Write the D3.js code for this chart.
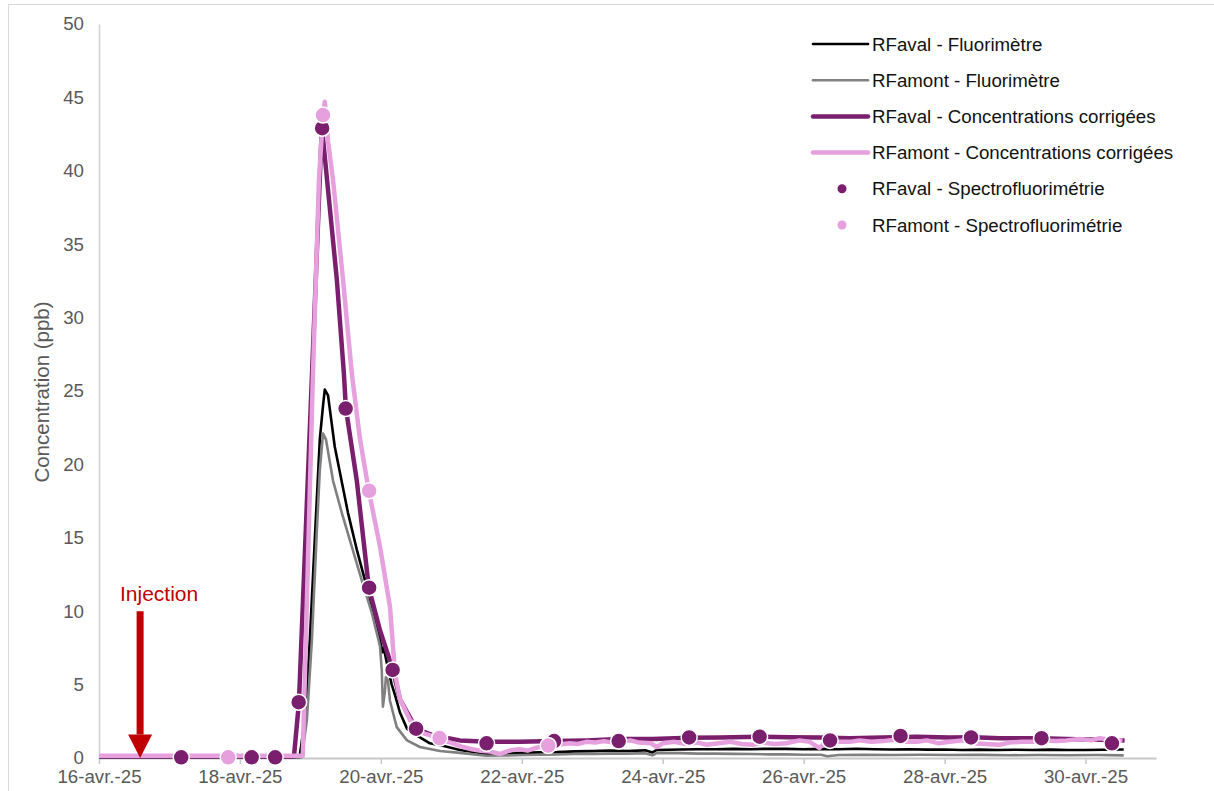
<!DOCTYPE html>
<html>
<head>
<meta charset="utf-8">
<script src="https://cdn.jsdelivr.net/npm/d3@7"></script>
<style>
  body { margin: 0; background: #fff; }
  svg { display: block; font-family: "Liberation Sans", Arial, sans-serif; }
</style>
</head>
<body>
<div id="chart"></div>
<script>
// heures écoulées depuis le 16-avr.-25 00:00, valeur en ppb
const startDate = new Date(2025, 3, 16);
const endDate = new Date(2025, 4, 1);

const rfavalFluo = [
  [0, 0.05], [68.3, 0.05], [70.1, 2.6], [71.8, 8.0], [73.5, 14.9], [75.2, 21.7], [76.3, 24.0],
  [76.9, 25.1], [78, 24.7], [80.3, 21.2], [84.8, 16.7], [87.8, 14.2], [90.6, 12.1], [93.3, 10.1],
  [95.7, 8.0], [96.6, 7.2], [97, 7.5], [98, 6.5], [99.7, 5.0], [100.8, 4.3], [102.5, 3.1],
  [104.9, 2.0], [106.9, 1.7], [112.7, 1.0], [117.8, 0.8], [122.9, 0.55], [132, 0.27], [138, 0.3],
  [144, 0.35], [150, 0.38], [156, 0.4], [162, 0.45], [168, 0.47], [174, 0.5], [180, 0.48],
  [186, 0.52], [188.5, 0.38], [190, 0.55], [198, 0.58], [204, 0.6], [210, 0.6], [216, 0.62],
  [222, 0.6], [228, 0.63], [234, 0.62], [240, 0.6], [246, 0.62], [252, 0.6], [258, 0.63],
  [264, 0.6], [270, 0.58], [276, 0.6], [282, 0.57], [288, 0.58], [294, 0.55], [300, 0.57],
  [306, 0.55], [312, 0.56], [318, 0.55], [324, 0.57], [330, 0.55], [336, 0.55], [342, 0.56],
  [349, 0.58]
];

const rfamontFluo = [
  [0, 0.05], [69.1, 0.05], [70.8, 2.6], [72.5, 8.0], [74.2, 15.5], [75.2, 19.6], [76.3, 22.1],
  [77.3, 21.7], [79.7, 18.9], [82.7, 16.7], [86.1, 14.4], [89.5, 12.1], [92.9, 9.9], [95, 8.2],
  [95.7, 7.6], [96.3, 6.0], [96.7, 3.5], [97.4, 4.6], [97.7, 5.5], [98.4, 5.3], [99.1, 3.9],
  [101.4, 2.1], [104.9, 1.2], [109.3, 0.75], [116.1, 0.48], [122.9, 0.35], [132, 0.15],
  [138, 0.17], [144, 0.2], [150, 0.22], [156, 0.25], [162, 0.27], [168, 0.27], [174, 0.3],
  [180, 0.3], [186, 0.33], [188.5, 0.18], [190, 0.35], [198, 0.33], [204, 0.3], [210, 0.3],
  [216, 0.28], [222, 0.27], [228, 0.25], [234, 0.25], [240, 0.22], [246, 0.22], [248, 0.12],
  [252, 0.2], [260, 0.22], [270, 0.2], [280, 0.22], [290, 0.2], [300, 0.21], [310, 0.19],
  [320, 0.2], [330, 0.19], [340, 0.2], [349, 0.18]
];

const rfavalCorr = [
  [0, 0.1], [66.4, 0.1], [68.1, 3.8], [75.9, 43.0], [81, 32.6], [83.4, 26.2], [84.1, 23.8],
  [87.8, 18.9], [91.9, 11.6], [95.7, 8.7], [100.1, 6.0], [102.5, 4.0], [108, 2.0],
  [113.7, 1.55], [122.9, 1.2], [132.1, 1.1], [143.3, 1.1], [154.6, 1.15], [166, 1.2],
  [177.4, 1.3], [188.6, 1.3], [201.2, 1.38], [211.4, 1.4], [224.7, 1.45], [235, 1.42],
  [245.4, 1.4], [255.7, 1.35], [266.9, 1.4], [278.5, 1.45], [289.7, 1.4], [298, 1.42],
  [306.7, 1.35], [320.7, 1.35], [329.5, 1.3], [340.8, 1.25], [349.3, 1.2]
];

const rfamontCorr = [
  [0, 0.15], [69.4, 0.15], [72.8, 25.7], [74.9, 39.4], [76.3, 43.8], [76.9, 44.7], [78, 42],
  [79.7, 39.4], [83.1, 32.6], [86.1, 26.2], [88.9, 21.7], [91.9, 18.2], [95.7, 14.4],
  [99.1, 10.3], [100.8, 5.8], [102.5, 4.0], [105.9, 2.6], [110.3, 1.7], [116.1, 1.36],
  [118, 1.15], [120.5, 1.0], [123.9, 0.75], [127, 0.6], [130, 0.5], [133, 0.45], [136.5, 0.27],
  [139, 0.45], [141, 0.55], [143.3, 0.6], [146, 0.5], [149, 0.7], [153.2, 0.85], [156, 0.9],
  [160.3, 1.0], [163, 0.95], [166, 1.1], [169, 1.05], [172, 1.15], [175, 1.05], [177.4, 1.1],
  [181, 1.2], [184, 1.05], [188, 1.0], [190, 0.75], [192, 1.0], [196, 1.1], [200, 0.95],
  [204, 1.05], [207, 0.9], [211, 1.0], [215, 1.1], [219, 0.95], [222.6, 0.9], [226, 1.05],
  [230, 0.95], [234, 1.0], [238.6, 1.2], [242, 1.1], [245.4, 0.68], [247, 1.0], [251, 1.1],
  [255.7, 1.1], [259, 1.2], [263, 1.1], [266.9, 1.15], [271, 1.25], [275, 1.1], [278.5, 1.1],
  [282, 1.2], [286, 1.0], [289.7, 1.1], [294, 1.2], [298, 1.0], [302, 0.95], [306.7, 0.9],
  [310, 1.05], [314, 1.1], [318, 1.1], [322, 1.2], [326, 1.15], [329.5, 1.2], [334, 1.3],
  [338, 1.2], [340.8, 1.35], [344, 1.25], [348.6, 1.2]
];

// prélèvements (toutes les 8 h puis journaliers)
const rfavalSpectro = [
  [28, 0.05], [52, 0.05], [60, 0.05], [68, 3.8], [76, 42.9], [84, 23.8], [92, 11.6],
  [100, 6.0], [108, 2.0], [132, 1.0], [155, 1.15], [177, 1.15], [201, 1.4], [225, 1.45],
  [249, 1.2], [273, 1.5], [297, 1.4], [321, 1.35], [345, 1.0]
];

const rfamontSpectro = [
  [44, 0.05], [76.3, 43.8], [92, 18.2], [116, 1.36], [153, 0.85]
];

const yTicks = [0, 5, 10, 15, 20, 25, 30, 35, 40, 45, 50];
const xTickDays = [0, 2, 4, 6, 8, 10, 12, 14];
const injectionHour = 14;

const lineSeries = [
  { name: "RFaval - Fluorimètre", data: rfavalFluo, color: "#000000", width: 2.6 },
  { name: "RFamont - Fluorimètre", data: rfamontFluo, color: "#808080", width: 2.6 },
  { name: "RFaval - Concentrations corrigées", data: rfavalCorr, color: "#7a1f6e", width: 4.5 },
  { name: "RFamont - Concentrations corrigées", data: rfamontCorr, color: "#e5a0dd", width: 4.5 }
];
const pointSeries = [
  { name: "RFaval - Spectrofluorimétrie", data: rfavalSpectro, color: "#7a1f6e" },
  { name: "RFamont - Spectrofluorimétrie", data: rfamontSpectro, color: "#e5a0dd" }
];

const fr = d3.timeFormatLocale({
  dateTime: "%A %e %B %Y à %X", date: "%d/%m/%Y", time: "%H:%M:%S",
  periods: ["AM", "PM"],
  days: ["dimanche", "lundi", "mardi", "mercredi", "jeudi", "vendredi", "samedi"],
  shortDays: ["dim.", "lun.", "mar.", "mer.", "jeu.", "ven.", "sam."],
  months: ["janvier", "février", "mars", "avril", "mai", "juin", "juillet", "août",
    "septembre", "octobre", "novembre", "décembre"],
  shortMonths: ["janv.", "févr.", "mars", "avr.", "mai", "juin", "juil.", "août",
    "sept.", "oct.", "nov.", "déc."]
});

const width = 1214, height = 791;
const toDate = h => d3.timeMinute.offset(startDate, Math.round(h * 60));

const svg = d3.select("#chart").append("svg")
  .attr("width", width).attr("height", height);

// cadre du graphique
svg.append("rect")
  .attr("x", 8.5).attr("y", 4.5).attr("width", width + 10).attr("height", height + 10)
  .attr("fill", "none").attr("stroke", "#d9d9d9");

const x = d3.scaleTime().domain([startDate, endDate]).range([99, 1156]);
const y = d3.scaleLinear().domain([0, 50]).range([758, 24]);

// axe Y
const yAxis = svg.append("g")
  .attr("transform", "translate(99,0)")
  .call(d3.axisLeft(y).tickValues(yTicks).tickSize(0).tickPadding(15));
yAxis.select(".domain").attr("stroke", "#d0d0d0").attr("stroke-width", 1.5);
yAxis.selectAll("text").attr("fill", "#595959").style("font-size", "18.7px");

// axe X
const xAxis = svg.append("g")
  .attr("transform", "translate(0,758)")
  .call(d3.axisBottom(x)
    .tickValues(xTickDays.map(d => d3.timeDay.offset(startDate, d)))
    .tickFormat(fr.format("%d-%b-%y"))
    .tickSize(6).tickSizeOuter(0).tickPadding(6));
xAxis.select(".domain").attr("stroke", "#c8c8c8").attr("stroke-width", 2);
xAxis.selectAll(".tick line").attr("stroke", "#c8c8c8").attr("stroke-width", 1.5);
xAxis.selectAll("text").attr("fill", "#595959").style("font-size", "18.7px");

svg.append("text")
  .attr("transform", "translate(49,392) rotate(-90)")
  .attr("text-anchor", "middle")
  .attr("fill", "#595959")
  .style("font-size", "20.5px")
  .text("Concentration (ppb)");

// courbes
const line = d3.line()
  .x(d => x(toDate(d[0])))
  .y(d => y(d[1]));

svg.append("g").selectAll("path")
  .data(lineSeries)
  .join("path")
  .attr("d", s => line(s.data))
  .attr("fill", "none")
  .attr("stroke", s => s.color)
  .attr("stroke-width", s => s.width)
  .attr("stroke-linejoin", "round");

pointSeries.forEach(s => {
  svg.append("g").selectAll("circle")
    .data(s.data)
    .join("circle")
    .attr("cx", d => x(toDate(d[0])))
    .attr("cy", d => y(d[1]))
    .attr("r", 8)
    .attr("fill", s.color)
    .attr("stroke", "#fff")
    .attr("stroke-width", 1.5);
});

// flèche d'injection
const ax = x(toDate(injectionHour));
const red = "#c00000";
svg.append("rect")
  .attr("x", ax - 3.5).attr("y", y(10))
  .attr("width", 7).attr("height", y(1.6) - y(10))
  .attr("fill", red);
svg.append("path")
  .attr("d", `M${ax - 12},${y(1.6)}L${ax + 12},${y(1.6)}L${ax},${y(0)}Z`)
  .attr("fill", red);
svg.append("text")
  .attr("x", ax + 19).attr("y", y(10) - 10)
  .attr("text-anchor", "middle")
  .attr("fill", red)
  .style("font-size", "21px")
  .text("Injection");

// légende
const legend = svg.append("g").attr("transform", "translate(813,44)");
const rowH = 36.2;
lineSeries.forEach((s, i) => {
  const g = legend.append("g").attr("transform", `translate(0,${i * rowH})`);
  g.append("line").attr("x1", 0).attr("x2", 55)
    .attr("stroke", s.color).attr("stroke-width", s.width).attr("stroke-linecap", "round");
  g.append("text").attr("x", 59).attr("dy", "0.35em")
    .style("font-size", "18.7px").attr("fill", "#111").text(s.name);
});
pointSeries.forEach((s, i) => {
  const g = legend.append("g").attr("transform", `translate(0,${(i + 4) * rowH})`);
  g.append("circle").attr("cx", 29).attr("r", 4.5).attr("fill", s.color);
  g.append("text").attr("x", 59).attr("dy", "0.35em")
    .style("font-size", "18.7px").attr("fill", "#111").text(s.name);
});
</script>
</body>
</html>
